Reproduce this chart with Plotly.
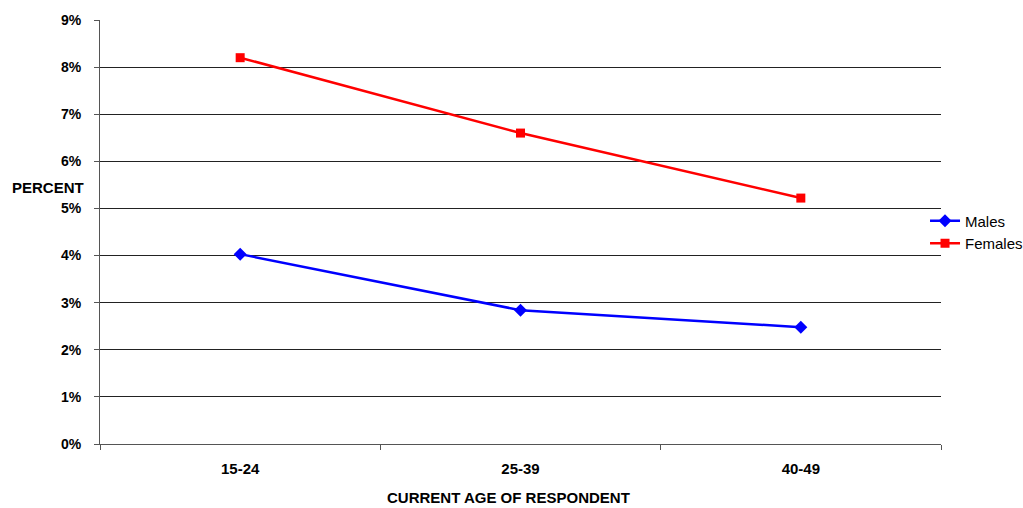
import plotly.graph_objects as go

categories = ["15-24", "25-39", "40-49"]
males = [4.03, 2.84, 2.48]
females = [8.2, 6.6, 5.22]
y_ticks = [0, 1, 2, 3, 4, 5, 6, 7, 8, 9]
y_tick_labels = [f"<b>{v}%</b>" for v in y_ticks]
x_tick_labels = [f"<b>{c}</b>" for c in categories]

fig = go.Figure()
fig.add_trace(go.Scatter(x=categories, y=males, name="Males", mode="lines+markers",
                         line=dict(color="#0000FF", width=2.5),
                         marker=dict(symbol="diamond", size=10, color="#0000FF")))
fig.add_trace(go.Scatter(x=categories, y=females, name="Females", mode="lines+markers",
                         line=dict(color="#FF0000", width=2.5),
                         marker=dict(symbol="square", size=9, color="#FF0000")))

fig.update_layout(
    width=1023, height=508,
    margin=dict(l=100, r=82, t=20, b=64, autoexpand=False),
    paper_bgcolor="white", plot_bgcolor="white",
    font=dict(family="Liberation Sans, Arial", color="#000"),
    showlegend=True,
    legend=dict(x=0.981, xanchor="left", y=0.50, yanchor="middle",
                font=dict(size=15), bgcolor="rgba(0,0,0,0)",
                itemwidth=30, tracegroupgap=0),
    annotations=[
        dict(text="<b>PERCENT</b>", xref="paper", yref="paper", x=-0.107, y=0.604,
             xanchor="left", yanchor="middle", showarrow=False, font=dict(size=15)),
        dict(text="<b>CURRENT AGE OF RESPONDENT</b>", xref="paper", yref="paper",
             x=0.486, y=-0.127, xanchor="center", yanchor="middle", showarrow=False,
             font=dict(size=15)),
    ],
)
fig.update_xaxes(type="category", range=[-0.5, 2.5], showgrid=False,
                 tickvals=categories, ticktext=x_tick_labels,
                 showline=True, linecolor="#555", linewidth=1,
                 ticks="outside", ticklen=5, tickcolor="#555", tickson="boundaries",
                 tickfont=dict(size=15), ticklabelstandoff=11, zeroline=False)
fig.update_yaxes(range=[0, 9], tickvals=y_ticks, ticktext=y_tick_labels,
                 showgrid=True, gridcolor="#222", gridwidth=1,
                 showline=True, linecolor="#555", linewidth=1,
                 ticks="outside", ticklen=5, tickcolor="#555",
                 tickfont=dict(size=14), ticklabelstandoff=10, zeroline=False)
fig.update_traces(cliponaxis=False)

fig.write_html("out.html", config={"displayModeBar": False},
               post_script="document.body.style.margin='0';document.body.style.padding='0';")
